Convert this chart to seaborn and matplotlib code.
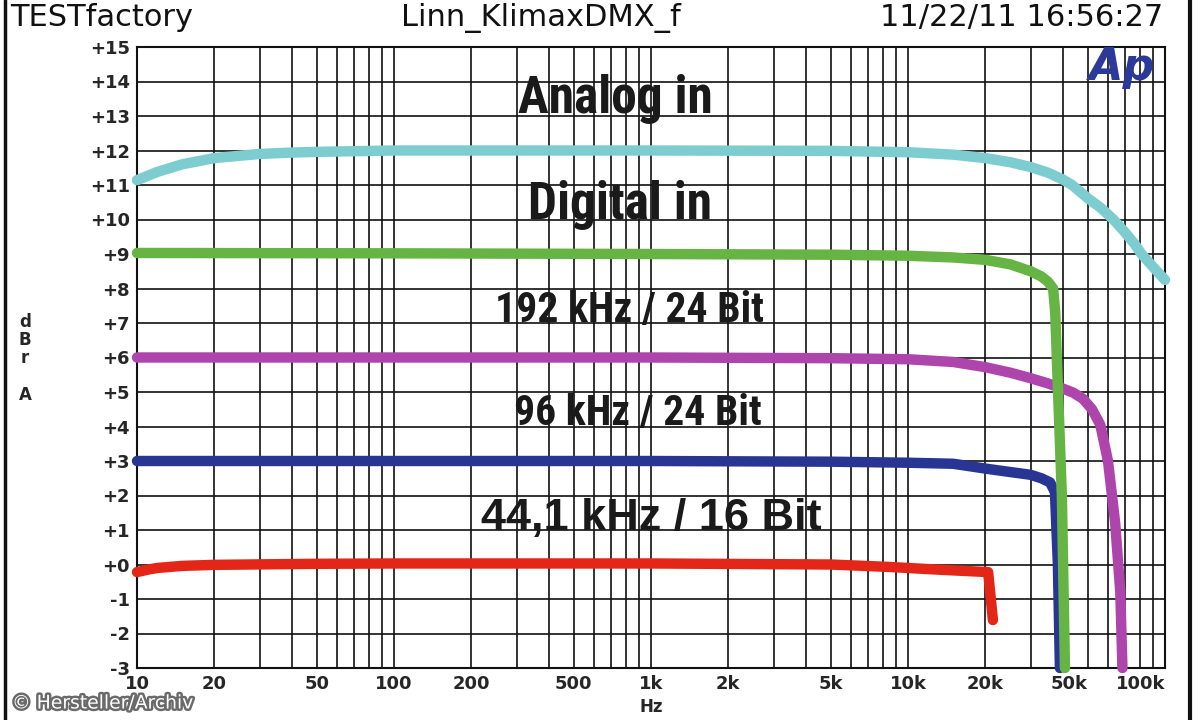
import numpy as np
import pandas as pd
import matplotlib
matplotlib.use("Agg")
import matplotlib.pyplot as plt
import matplotlib.patheffects as pe
from matplotlib import font_manager
from matplotlib.lines import Line2D
from matplotlib.ticker import FixedLocator, FixedFormatter, MultipleLocator
import seaborn as sns

# --- data (frequency in Hz, level in dBr) ---
analog_f = [10, 12, 15, 20, 30, 40, 50, 70, 100, 1000, 5000, 7000, 10000, 15000, 20000, 25000,
            30000, 35000, 40000, 43500, 50000, 56000, 63000, 70000, 76000, 81000, 90000, 100000]
analog_db = [11.14, 11.38, 11.60, 11.78, 11.90, 11.94, 11.96, 11.98, 12.0, 12.0, 11.99, 11.97, 11.95,
             11.88, 11.78, 11.66, 11.52, 11.36, 11.16, 11.0, 10.62, 10.35, 10.0, 9.62, 9.30, 9.0, 8.62, 8.25]

d192_f = [10, 100, 1000, 5000, 10000, 15000, 20000, 25000, 30000, 33000, 35000, 36700, 37400,
          38000, 39700, 40800]
d192_db = [9.03, 9.02, 9.0, 8.98, 8.95, 8.90, 8.83, 8.70, 8.50, 8.35, 8.20, 8.0, 7.3,
           5.84, 1.96, -3.0]

d96_f = [10, 1000, 5000, 10000, 15000, 20000, 25000, 30000, 35000, 40000, 44000, 48000, 52000,
         56000, 60000, 64000, 67000, 68300]
d96_db = [6.0, 6.0, 5.98, 5.95, 5.87, 5.72, 5.56, 5.40, 5.25, 5.10, 4.98, 4.80, 4.50,
          4.05, 3.0, 1.2, -0.8, -3.0]

d48_f = [10, 1000, 5000, 10000, 15000, 20000, 25000, 30000, 33000, 35700, 37300, 38300, 39000]
d48_db = [3.0, 3.0, 2.98, 2.95, 2.92, 2.78, 2.68, 2.60, 2.50, 2.38, 2.10, 0.0, -3.0]

d44_f = [10, 11, 12, 15, 20, 50, 100, 1000, 5000, 8400, 13200, 20500, 21400]
d44_db = [-0.22, -0.15, -0.10, -0.04, -0.01, 0.02, 0.03, 0.03, 0.0, -0.07, -0.15, -0.22, -1.61]

curve_names = ["analog", "192", "96", "48", "44"]
curve_colors = ["#7dcdd0", "#66b544", "#ae45ad", "#283593", "#e42618"]

x_ticks = [10, 20, 50, 100, 200, 500, 1000, 2000, 5000, 10000, 20000, 50000, 100000]
x_labels = ["10", "20", "50", "100", "200", "500", "1k", "2k", "5k", "10k", "20k", "50k", "100k"]
y_ticks = list(range(-3, 16))
y_labels = [("+%d" % v) if v >= 0 else ("-%d" % -v) for v in y_ticks]

header_left = "TESTfactory"
header_mid = "Linn_KlimaxDMX_f"
header_right = "11/22/11 16:56:27"

notes = ["Analog in", "Digital in", "192 kHz / 24 Bit", "96 kHz / 24 Bit", "44,1 kHz / 16 Bit"]
note_f = [725, 757, 828, 890, 1000]
note_db = [13.1, 10.0, 7.03, 4.04, 1.0]

# --- fonts ---
avail = {f.name for f in font_manager.fontManager.ttflist}
narrow = next((n for n in ["Liberation Sans Narrow", "DejaVu Sans Condensed", "Roboto Condensed"] if n in avail), None)

sns.set_style("white")
plt.rcParams["font.family"] = ["DejaVu Sans"]

fig = plt.figure(figsize=(11.99, 7.2), dpi=100)
fig.patch.set_facecolor("white")
ax = fig.add_axes([137 / 1199, 52 / 720, 1028 / 1199, 621 / 720])
ax.set_xscale("log")

frames = []
for name, f, db in zip(curve_names, [analog_f, d192_f, d96_f, d48_f, d44_f],
                       [analog_db, d192_db, d96_db, d48_db, d44_db]):
    frames.append(pd.DataFrame({"freq": f, "db": db, "curve": name}))
df = pd.concat(frames, ignore_index=True)

# draw order: blue, red, magenta, green, cyan
for name in ["48", "44", "96", "192", "analog"]:
    col = curve_colors[curve_names.index(name)]
    sns.lineplot(data=df[df["curve"] == name], x="freq", y="db", ax=ax, color=col,
                 lw=7.5, estimator=None, sort=False, solid_capstyle="round",
                 solid_joinstyle="round", zorder=3)
for ln in ax.lines:
    ln.set_clip_on(False)

ax.set_xlim(10, 100000)
ax.set_ylim(-3, 15)

minors = [m * 10 ** e for e in range(1, 5) for m in range(1, 10)] + [100000]
ax.xaxis.set_major_locator(FixedLocator(x_ticks))
ax.xaxis.set_major_formatter(FixedFormatter(x_labels))
ax.xaxis.set_minor_locator(FixedLocator(minors))
ax.yaxis.set_major_locator(FixedLocator(y_ticks))
ax.yaxis.set_major_formatter(FixedFormatter(y_labels))
ax.yaxis.set_minor_locator(MultipleLocator(0.1))

ax.grid(False)
ax.grid(True, which="both", axis="x", color="#111111", lw=1.2, zorder=1)
ax.grid(True, which="major", axis="y", color="#111111", lw=1.2, zorder=1)
ax.set_axisbelow(True)
ax.tick_params(axis="x", which="both", length=0, pad=5, labelsize=13)
ax.tick_params(axis="y", which="both", direction="in", length=9, width=0.9,
               color="#111111", pad=5, labelsize=13)
for lab in ax.get_xticklabels() + ax.get_yticklabels():
    lab.set_fontweight("bold")
xl = ax.get_xticklabels()
xl[-1].set_horizontalalignment("right")
xl[-2].set_horizontalalignment("right")
for s in ax.spines.values():
    s.set_color("#111111")
    s.set_linewidth(1.5)
ax.set_xlabel("")
ax.set_ylabel("")

# annotations on the plot
for i, (txt, f, db) in enumerate(zip(notes, note_f, note_db)):
    if i == 4 or narrow is None:
        fam, size = "Liberation Sans", [30, 28, 26, 26, 32.5][i]
    else:
        fam, size = narrow, [37, 37, 30, 30, 32.5][i]
    ax.text(f, db, txt, ha="center", va="baseline", fontsize=size, fontweight="bold",
            family=[fam, "DejaVu Sans"], color="#1a1a1a", zorder=4)

ax.text(0.958, 0.947, "Ap", transform=ax.transAxes, ha="center", va="baseline",
        fontsize=32, fontweight="heavy", fontstyle="italic", color="#2b3a9a", zorder=4)

# header
fig.text(10 / 1199, 1 - 26 / 720, header_left, fontsize=22, ha="left", va="baseline", color="#111111")
fig.text(541 / 1199, 1 - 26 / 720, header_mid, fontsize=22, ha="center", va="baseline", color="#111111")
fig.text(1163 / 1199, 1 - 26 / 720, header_right, fontsize=22, ha="right", va="baseline", color="#111111")

# y label, stacked letters
for ch, yy in zip(["d", "B", "r", "A"], [322, 340, 358, 395]):
    fig.text(25 / 1199, 1 - yy / 720, ch, fontsize=12, fontweight="bold", ha="center", va="center")
fig.text(651 / 1199, 1 - 707 / 720, "Hz", fontsize=12, fontweight="bold", ha="center", va="center")

# watermark
fig.text(12 / 1199, 1 - 703 / 720, "\u00a9 Hersteller/Archiv", fontsize=13.5, color="white",
         ha="left", va="center",
         path_effects=[pe.withStroke(linewidth=3.5, foreground="#6a6a6a")])

# page frame lines
fig.add_artist(Line2D([5 / 1199] * 2, [0, 1], transform=fig.transFigure, color="#111111", lw=2.5))
fig.add_artist(Line2D([1190 / 1199] * 2, [0, 1], transform=fig.transFigure, color="#111111", lw=3))

fig.savefig("out.png", dpi=100)
